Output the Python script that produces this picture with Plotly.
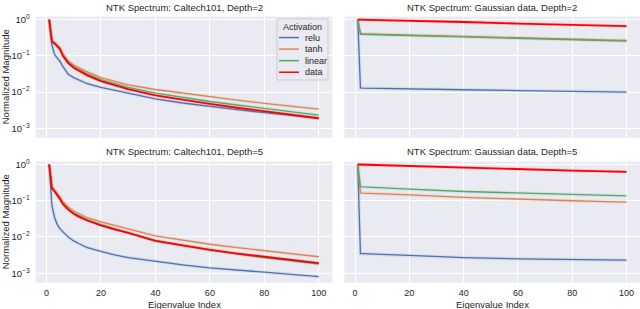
import plotly.graph_objects as go

# ---------------- data ----------------
SERIES = ["relu", "tanh", "linear", "data"]
COLORS = ["#4C72B0", "#DD8452", "#55A868", "#FF0000"]

CAL_IDX = [1, 2, 3, 4, 5, 6, 7, 8, 10, 12, 15, 20, 25, 30, 40, 50, 60, 70, 80, 90, 100]
GAU_IDX = [1, 2, 3, 5, 10, 20, 40, 60, 80, 100]

cal_d2_relu = [1.0, 0.20, 0.107, 0.087, 0.070, 0.051, 0.040, 0.031, 0.025, 0.021, 0.017, 0.0135, 0.0112, 0.0094, 0.0065, 0.0050, 0.0040, 0.0033, 0.0027, 0.0023, 0.0019]
cal_d2_tanh = [1.0, 0.26, 0.23, 0.20, 0.17, 0.115, 0.088, 0.073, 0.056, 0.047, 0.036, 0.025, 0.0195, 0.0158, 0.0118, 0.0093, 0.0074, 0.0060, 0.0049, 0.0041, 0.0034]
cal_d2_linear = [1.0, 0.25, 0.22, 0.19, 0.16, 0.105, 0.082, 0.067, 0.051, 0.042, 0.032, 0.022, 0.0170, 0.0135, 0.0094, 0.0071, 0.0055, 0.0044, 0.0035, 0.0028, 0.0023]
cal_d2_data = [1.0, 0.25, 0.22, 0.18, 0.15, 0.10, 0.077, 0.063, 0.047, 0.038, 0.029, 0.020, 0.0152, 0.0120, 0.0081, 0.0061, 0.0047, 0.0037, 0.0030, 0.0024, 0.0019]

cal_d5_relu = [1.0, 0.075, 0.034, 0.022, 0.0168, 0.0137, 0.0118, 0.0100, 0.0078, 0.0065, 0.0051, 0.0040, 0.0032, 0.0027, 0.0021, 0.0017, 0.0014, 0.0012, 0.00107, 0.00093, 0.00081]
cal_d5_tanh = [1.0, 0.25, 0.20, 0.165, 0.128, 0.095, 0.079, 0.067, 0.052, 0.043, 0.034, 0.026, 0.0205, 0.0168, 0.0107, 0.0082, 0.0063, 0.0051, 0.0042, 0.0034, 0.00285]
cal_d5_linear = [1.0, 0.23, 0.185, 0.15, 0.115, 0.085, 0.070, 0.060, 0.046, 0.038, 0.030, 0.022, 0.0170, 0.0135, 0.0080, 0.0059, 0.0044, 0.0034, 0.0027, 0.0022, 0.0018]
cal_d5_data = [1.0, 0.22, 0.18, 0.146, 0.11, 0.081, 0.067, 0.057, 0.044, 0.036, 0.0285, 0.021, 0.0163, 0.0130, 0.0078, 0.0058, 0.0044, 0.0035, 0.00285, 0.0023, 0.0019]

gau_d2_relu = [1.0, 0.0130, 0.0129, 0.0128, 0.0126, 0.0123, 0.0116, 0.0110, 0.0105, 0.0100]
gau_d2_tanh = [1.0, 0.41, 0.405, 0.40, 0.39, 0.375, 0.345, 0.315, 0.29, 0.265]
gau_d2_linear = [1.0, 0.40, 0.395, 0.39, 0.38, 0.365, 0.335, 0.305, 0.28, 0.255]
gau_d2_data = [1.0, 0.995, 0.99, 0.98, 0.96, 0.92, 0.86, 0.78, 0.72, 0.66]

gau_d5_relu = [1.0, 0.0035, 0.0035, 0.0034, 0.0033, 0.0031, 0.0027, 0.0025, 0.0024, 0.0023]
gau_d5_tanh = [1.0, 0.165, 0.163, 0.16, 0.155, 0.145, 0.124, 0.11, 0.10, 0.092]
gau_d5_linear = [1.0, 0.245, 0.24, 0.235, 0.225, 0.21, 0.18, 0.163, 0.15, 0.137]
gau_d5_data = [1.0, 0.995, 0.99, 0.98, 0.95, 0.90, 0.80, 0.73, 0.68, 0.63]

TITLES = ["NTK Spectrum: Caltech101, Depth=2", "NTK Spectrum: Gaussian data, Depth=2",
          "NTK Spectrum: Caltech101, Depth=5", "NTK Spectrum: Gaussian data, Depth=5"]
X_TICKS = [0, 20, 40, 60, 80, 100]
Y_TICKS = [1e-3, 1e-2, 1e-1, 1e0]
Y_TICK_TEXT = ["10<sup>\u22123</sup>", "10<sup>\u22122</sup>", "10<sup>\u22121</sup>", "10<sup>0</sup>"]

panels = [
    (CAL_IDX, [cal_d2_relu, cal_d2_tanh, cal_d2_linear, cal_d2_data]),
    (GAU_IDX, [gau_d2_relu, gau_d2_tanh, gau_d2_linear, gau_d2_data]),
    (CAL_IDX, [cal_d5_relu, cal_d5_tanh, cal_d5_linear, cal_d5_data]),
    (GAU_IDX, [gau_d5_relu, gau_d5_tanh, gau_d5_linear, gau_d5_data]),
]

# ---------------- layout geometry ----------------
W, H = 640, 309
XDOM = [[35.7 / W, 332.3 / W], [344.3 / W, 1.0]]
YDOM = [[1 - 135.7 / H, 1 - 12.7 / H], [1 - 282.5 / H, 1 - 159.5 / H]]
TEXT = "#262626"
FONT = "Liberation Sans, Arial, sans-serif"

fig = go.Figure()
layout = dict(
    width=W, height=H,
    margin=dict(l=0, r=0, t=0, b=0),
    paper_bgcolor="white",
    plot_bgcolor="#EAEAF2",
    font=dict(family=FONT, size=9, color=TEXT),
    showlegend=False,
    annotations=[], shapes=[],
)

for k, (idx, series) in enumerate(panels):
    row, col = divmod(k, 2)
    n = k + 1
    xa = "x" if n == 1 else f"x{n}"
    ya = "y" if n == 1 else f"y{n}"
    for name, color, vals in zip(SERIES, COLORS, series):
        # faint underlay imitating the confidence band
        fig.add_trace(go.Scatter(x=idx, y=vals, mode="lines", xaxis=xa, yaxis=ya,
                                 line=dict(color=color, width=3.5), opacity=0.12,
                                 hoverinfo="skip", showlegend=False))
    for name, color, vals in zip(SERIES, COLORS, series):
        fig.add_trace(go.Scatter(x=idx, y=vals, mode="lines", name=name, xaxis=xa, yaxis=ya,
                                 line=dict(color=color, width=1.8 if name == "data" else 1.3),
                                 showlegend=False))
    xkey = "xaxis" if n == 1 else f"xaxis{n}"
    ykey = "yaxis" if n == 1 else f"yaxis{n}"
    layout[xkey] = dict(
        domain=XDOM[col], anchor=ya, range=[-3.95, 104.95],
        tickvals=X_TICKS, showticklabels=(row == 1), ticklabelstandoff=3,
        showgrid=True, gridcolor="white", gridwidth=1, zeroline=False,
        showline=False, ticks="", tickfont=dict(size=9, color=TEXT),
    )
    layout[ykey] = dict(
        domain=YDOM[row], anchor=xa, type="log", range=[-3.265, 0.085],
        tickvals=Y_TICKS, ticktext=Y_TICK_TEXT, showticklabels=(col == 0), ticklabelstandoff=5,
        showgrid=True, gridcolor="white", gridwidth=1, zeroline=False,
        showline=False, ticks="", tickfont=dict(size=9.5, color=TEXT),
    )
    xc = (XDOM[col][0] + XDOM[col][1]) / 2
    yc = (YDOM[row][0] + YDOM[row][1]) / 2
    layout["annotations"].append(dict(
        text=TITLES[k], xref="paper", yref="paper", x=xc, y=YDOM[row][1] + 2 / H,
        xanchor="center", yanchor="bottom", showarrow=False,
        font=dict(size=9.5, color=TEXT)))
    if row == 1:
        layout["annotations"].append(dict(
            text="Eigenvalue Index", xref="paper", yref="paper", x=xc, y=1 - 304 / H,
            xanchor="center", yanchor="middle", showarrow=False,
            font=dict(size=9.5, color=TEXT)))
    if col == 0:
        layout["annotations"].append(dict(
            text="Normalized Magnitude", xref="paper", yref="paper", x=5 / W, y=yc,
            xanchor="center", yanchor="middle", textangle=-90, showarrow=False,
            font=dict(size=9.5, color=TEXT)))

# ---------------- manual legend (top-left panel) ----------------
LX0, LX1, LY0, LY1 = 277, 328, 15, 77
layout["shapes"].append(dict(
    type="rect", xref="paper", yref="paper",
    x0=LX0 / W, x1=LX1 / W, y0=1 - LY1 / H, y1=1 - LY0 / H,
    fillcolor="rgba(234,234,242,0.85)", line=dict(color="#CCCCCC", width=1)))
layout["annotations"].append(dict(
    text="Activation", xref="paper", yref="paper", x=(LX0 + LX1) / 2 / W, y=1 - 23 / H,
    xanchor="center", yanchor="middle", showarrow=False, font=dict(size=9, color=TEXT)))
for i, (name, color) in enumerate(zip(SERIES, COLORS)):
    yy = 1 - (34 + i * 11.7) / H
    layout["shapes"].append(dict(
        type="line", xref="paper", yref="paper", x0=279 / W, x1=299 / W, y0=yy, y1=yy,
        line=dict(color=color, width=1.5)))
    layout["annotations"].append(dict(
        text=name, xref="paper", yref="paper", x=303 / W, y=yy,
        xanchor="left", yanchor="middle", showarrow=False, font=dict(size=9, color=TEXT)))

fig.update_layout(**layout)
fig.write_html("out.html", config={"displayModeBar": False},
               post_script="document.body.style.margin='0';")
